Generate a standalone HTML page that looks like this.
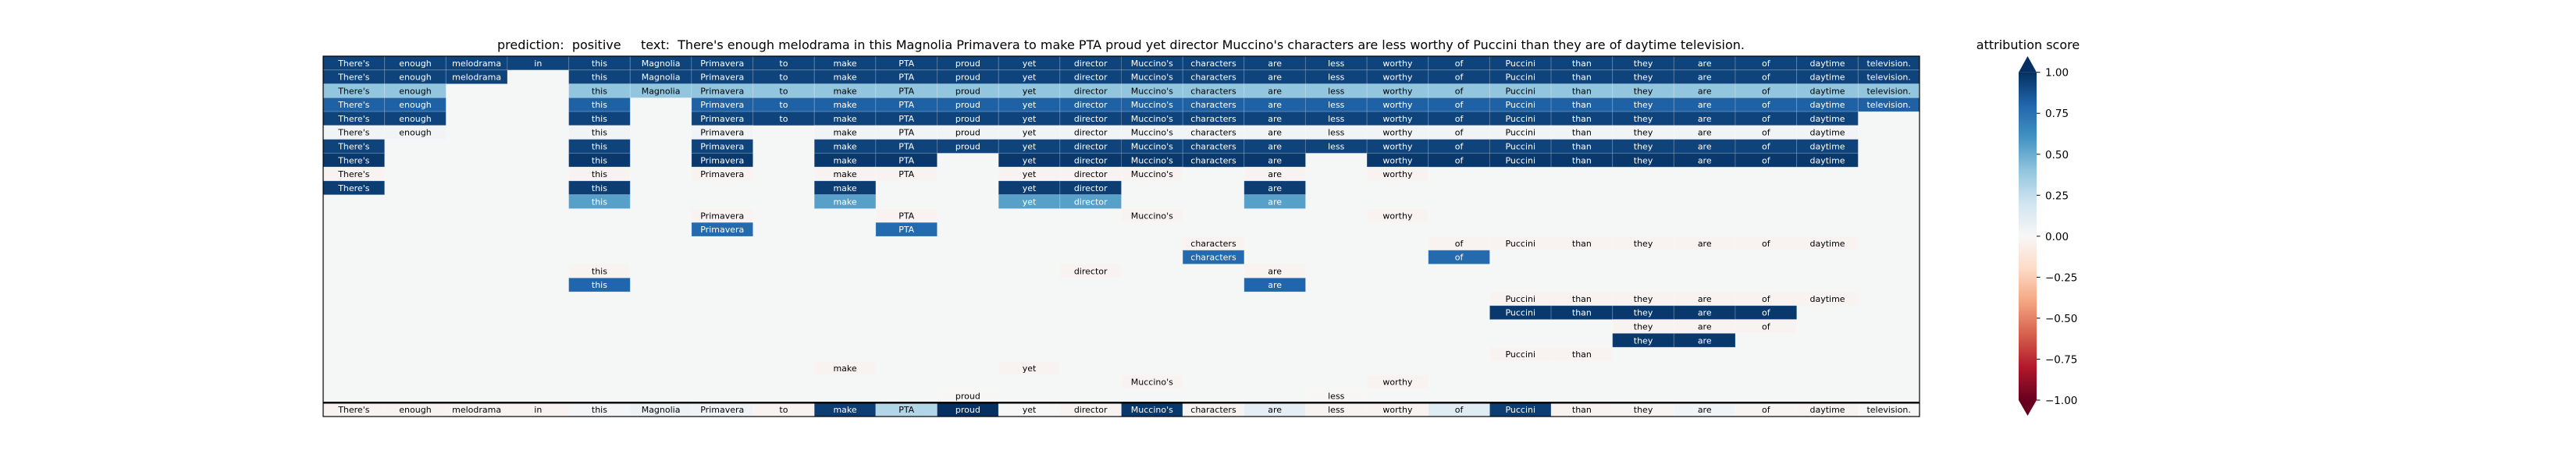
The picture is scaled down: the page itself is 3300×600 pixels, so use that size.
<!DOCTYPE html>
<html><head><meta charset="utf-8">
<style>
html,body{margin:0;padding:0;background:#fff;}
svg{display:block;font-family:"DejaVu Sans","Liberation Sans",sans-serif;}
</style></head>
<body>
<svg id="chart" width="3300" height="600" viewBox="0 0 3300 600" xmlns="http://www.w3.org/2000/svg">
  <defs>
    <linearGradient id="rdbu" x1="0" y1="1" x2="0" y2="0">
      <stop offset="0" stop-color="#67001f"/><stop offset="0.1" stop-color="#b2182b"/>
      <stop offset="0.2" stop-color="#d6604d"/><stop offset="0.3" stop-color="#f4a582"/>
      <stop offset="0.4" stop-color="#fddbc7"/><stop offset="0.5" stop-color="#f7f7f7"/>
      <stop offset="0.6" stop-color="#d1e5f0"/><stop offset="0.7" stop-color="#92c5de"/>
      <stop offset="0.8" stop-color="#4393c3"/><stop offset="0.9" stop-color="#2166ac"/>
      <stop offset="1" stop-color="#053061"/>
    </linearGradient>
  </defs>
  <text x="1436" y="63" text-anchor="middle" font-size="16" xml:space="preserve" fill="#000">prediction:  positive     text:  There's enough melodrama in this Magnolia Primavera to make PTA proud yet director Muccino's characters are less worthy of Puccini than they are of daytime television.</text>
  <g id="plot"></g>
  <g id="cbar"></g>
</svg>
<script>
const tokens = ["There's","enough","melodrama","in","this","Magnolia","Primavera","to","make","PTA","proud","yet","director","Muccino's","characters","are","less","worthy","of","Puccini","than","they","are","of","daytime","television."];
const rowCols = [
  [0,1,2,3,4,5,6,7,8,9,10,11,12,13,14,15,16,17,18,19,20,21,22,23,24,25],
  [0,1,2,4,5,6,7,8,9,10,11,12,13,14,15,16,17,18,19,20,21,22,23,24,25],
  [0,1,4,5,6,7,8,9,10,11,12,13,14,15,16,17,18,19,20,21,22,23,24,25],
  [0,1,4,6,7,8,9,10,11,12,13,14,15,16,17,18,19,20,21,22,23,24,25],
  [0,1,4,6,7,8,9,10,11,12,13,14,15,16,17,18,19,20,21,22,23,24],
  [0,1,4,6,8,9,10,11,12,13,14,15,16,17,18,19,20,21,22,23,24],
  [0,4,6,8,9,10,11,12,13,14,15,16,17,18,19,20,21,22,23,24],
  [0,4,6,8,9,11,12,13,14,15,17,18,19,20,21,22,23,24],
  [0,4,6,8,9,11,12,13,15,17],
  [0,4,8,11,12,15],
  [4,8,11,12,15],
  [6,9,13,17],
  [6,9],
  [14,18,19,20,21,22,23,24],
  [14,18],
  [4,12,15],
  [4,15],
  [19,20,21,22,23,24],
  [19,20,21,22,23],
  [21,22,23],
  [21,22],
  [19,20],
  [8,11],
  [13,17],
  [10,16]
];
const rowScores = [0.93,0.93,0.4,0.82,0.93,0.03,0.93,0.97,-0.03,0.95,0.55,-0.03,0.78,-0.03,0.78,-0.03,0.8,-0.03,0.97,-0.03,0.97,-0.03,-0.03,-0.03,-0.01];
const finalScores = [-0.03,-0.03,-0.03,-0.03,0.02,0.06,0.04,-0.03,0.95,0.3,1.0,0.0,-0.03,0.97,-0.03,0.1,-0.03,-0.03,0.12,0.95,-0.03,-0.02,0.03,-0.02,-0.03,0.0];
const cbTicks = [1,0.75,0.5,0.25,0,-0.25,-0.5,-0.75,-1];

const NS = "http://www.w3.org/2000/svg";
const X0 = 414, X1 = 2459, Y0 = 72, Y1 = 534;
const nCols = tokens.length, nRows = rowCols.length + 1;
const cw = (X1 - X0) / nCols, rh = (Y1 - Y0) / nRows;
const xPos = i => X0 + i * cw;
const yPos = r => Y0 + r * rh;

const stops = ["#67001f","#b2182b","#d6604d","#f4a582","#fddbc7","#f7f7f7","#d1e5f0","#92c5de","#4393c3","#2166ac","#053061"];
function hex(h){return [1,3,5].map(i=>parseInt(h.substr(i,2),16));}
function color(v){
  let t = (Math.max(-1, Math.min(1, v)) + 1) / 2 * 10;
  let i = Math.min(9, Math.floor(t)), f = t - i;
  const a = hex(stops[i]), b = hex(stops[i+1]);
  return "rgb(" + a.map((c,k)=>Math.round(c + (b[k]-c)*f)).join(",") + ")";
}
function el(tag, attrs, parent){
  const e = document.createElementNS(NS, tag);
  for (const k in attrs) e.setAttribute(k, attrs[k]);
  parent.appendChild(e); return e;
}
const plot = document.getElementById('plot');
const bg = el('rect', {x:X0, y:Y0, width:X1-X0, height:Y1-Y0, fill:'#f5f6f6'}, plot);



function cell(col, row, v, rowName){
  const g = el('g', {}, plot);
  
  
  el('rect', {x:xPos(col), y:yPos(row), width:cw, height:rh, fill:color(v), stroke:'rgba(255,255,255,0.18)', 'stroke-width':1}, g);
  const t = el('text', {x:xPos(col)+cw/2, y:yPos(row)+rh/2+4, 'text-anchor':'middle', 'font-size':11, fill: Math.abs(v) > 0.5 ? '#fff' : '#000'}, g);
  t.textContent = tokens[col];
}
rowCols.forEach((cols, r) => {
  cols.forEach(c => cell(c, r, rowScores[r], 'row-' + (r+1)));
});
finalScores.forEach((v, c) => cell(c, nRows-1, v, 'final-row'));

const sep = el('line', {x1:X0, x2:X1, y1:yPos(nRows-1), y2:yPos(nRows-1), stroke:'#000', 'stroke-width':2.5}, plot);


const frame = el('rect', {x:X0, y:Y0, width:X1-X0, height:Y1-Y0, fill:'none', stroke:'#000', 'stroke-width':1.2}, plot);



// colorbar
const cb = document.getElementById('cbar');
const CX0 = 2586, CX1 = 2609, CT = 92.7, CB = 513;
const cy = v => CB - (v + 1) / 2 * (CB - CT);
const cbRect = el('rect', {x:CX0, y:CT, width:CX1-CX0, height:CB-CT, fill:'url(#rdbu)'}, cb);


const triTop = el('polygon', {points:`${CX0},${CT} ${CX1},${CT} ${(CX0+CX1)/2},72`, fill:'#053061'}, cb);


const triBot = el('polygon', {points:`${CX0},${CB} ${CX1},${CB} ${(CX0+CX1)/2},533`, fill:'#67001f'}, cb);


cbTicks.forEach(v => {
  const g = el('g', {}, cb);
  
  
  el('line', {x1:CX1, x2:CX1+4.5, y1:cy(v), y2:cy(v), stroke:'#000', 'stroke-width':1}, g);
  const t = el('text', {x:2620, y:cy(v)+5, 'font-size':13.5, fill:'#000'}, g);
  t.textContent = (v < 0 ? '\u2212' : '') + Math.abs(v).toFixed(2);
});
const cbt = el('text', {x:2598, y:63, 'text-anchor':'middle', 'font-size':16, fill:'#000'}, cb);


cbt.textContent = 'attribution score';
</script>
</body></html>
